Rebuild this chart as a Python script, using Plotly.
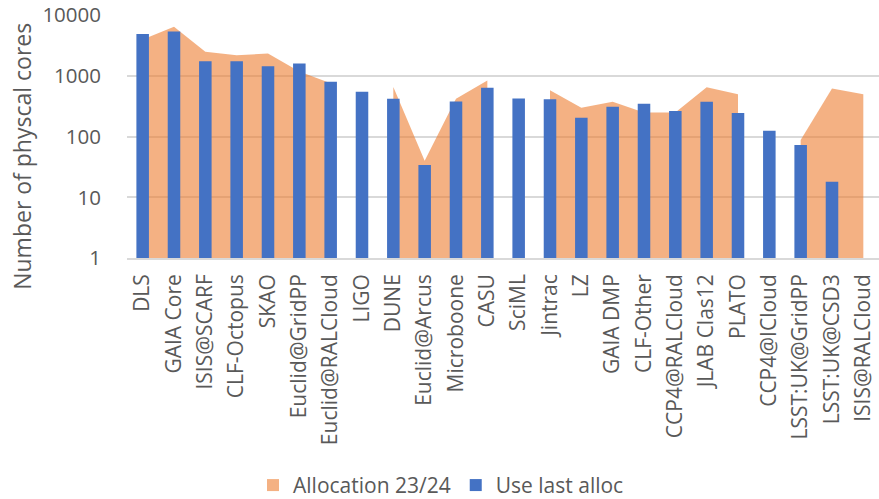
import plotly.graph_objects as go

categories = ["DLS", "GAIA Core", "ISIS@SCARF", "CLF-Octopus", "SKAO", "Euclid@GridPP",
              "Euclid@RALCloud", "LIGO", "DUNE", "Euclid@Arcus", "Microboone", "CASU",
              "SciML", "Jintrac", "LZ", "GAIA DMP", "CLF-Other", "CCP4@RALCloud",
              "JLAB Clas12", "PLATO", "CCP4@ICloud", "LSST:UK@GridPP", "LSST:UK@CSD3",
              "ISIS@RALCloud"]

allocation_2324 = [4000, 6500, 2500, 2200, 2350, 1180, 760, None, 660, 40, 420, 840,
                   None, 580, 300, 375, 250, 250, 650, 500, None, 88, 620, 500]

use_last_alloc = [4900, 5400, 1750, 1750, 1450, 1600, 800, 550, 420, 34, 380, 640,
                  425, 415, 205, 310, 350, 265, 375, 245, 125, 73, 18, None]

tick_vals = [1, 10, 100, 1000, 10000]
tick_text = ["1", "10", "100", "1000", "10000"]

ORANGE_FILL = "rgba(237,125,49,0.6)"
BLUE = "#4472C4"
GREY_TXT = "#595959"
GRID = "#D9D9D9"
FONT = "Open Sans"

W, H = 879, 499
Y_TOP = 4.005
PLOT_L, PLOT_B = 127, 258.3
DECADE = 60.75
PLOT_T = PLOT_B - DECADE * Y_TOP
PLOT_W, PLOT_H = W - PLOT_L, PLOT_B - PLOT_T

fig = go.Figure()

# Split the allocation series into contiguous runs (blank categories break the area)
runs = []
cur_x, cur_y = [], []
for c, v in zip(categories, allocation_2324):
    if v is None:
        if cur_x:
            runs.append((cur_x, cur_y))
        cur_x, cur_y = [], []
    else:
        cur_x.append(c)
        cur_y.append(v)
if cur_x:
    runs.append((cur_x, cur_y))

for rx, ry in runs:
    fig.add_trace(go.Scatter(
        x=rx, y=ry, mode="none", fill="tozeroy",
        fillcolor=ORANGE_FILL, showlegend=False,
        name="Allocation 23/24", legendgroup="alloc",
        xaxis="x", yaxis="y",
    ))

# Legend entry for the area
fig.add_trace(go.Bar(
    x=[categories[0]], y=[None], name="Allocation 23/24", legendgroup="alloc",
    marker=dict(color=ORANGE_FILL, line=dict(width=0)),
    xaxis="x", yaxis="y", showlegend=True,
))

# Bars (use) on overlay axes, drawn on top of the area
fig.add_trace(go.Bar(
    x=categories, y=use_last_alloc, name="Use last alloc",
    marker=dict(color=BLUE, line=dict(width=0)),
    xaxis="x2", yaxis="y2",
))

fig.update_layout(
    width=W, height=H,
    margin=dict(l=PLOT_L, r=0, t=PLOT_T, b=H - PLOT_B, pad=0, autoexpand=False),
    paper_bgcolor="white", plot_bgcolor="white",
    font=dict(family=FONT, color=GREY_TXT, size=20),
    bargap=0.6,
    showlegend=True,
    legend=dict(
        orientation="h", x=(441 - PLOT_L) / PLOT_W, xanchor="center",
        y=(PLOT_B - 486) / PLOT_H, yanchor="middle",
        font=dict(family=FONT, size=21, color=GREY_TXT),
        itemwidth=30, traceorder="normal",
        bgcolor="rgba(0,0,0,0)",
    ),
    xaxis=dict(
        type="category", categoryorder="array", categoryarray=categories,
        range=[-0.5, len(categories) - 0.5], automargin=False,
        showgrid=False, zeroline=False,
        showline=True, linecolor=GRID, linewidth=1.5,
        ticks="", tickangle=-90, ticklabelstandoff=6,
        tickfont=dict(family=FONT, size=21, color=GREY_TXT),
    ),
    yaxis=dict(
        type="log", range=[0, Y_TOP], automargin=False,
        tickvals=tick_vals, ticktext=tick_text,
        showgrid=True, gridcolor=GRID, gridwidth=1.5,
        zeroline=False, showline=False, ticks="",
        ticklabelstandoff=25,
        tickfont=dict(family=FONT, size=20.5, color=GREY_TXT),
    ),
    xaxis2=dict(
        type="category", categoryorder="array", categoryarray=categories,
        overlaying="x", matches="x", visible=False, automargin=False,
    ),
    yaxis2=dict(
        type="log", range=[0, Y_TOP], overlaying="y", visible=False, automargin=False,
    ),
    annotations=[dict(
        text="Number of physcal cores", textangle=-90,
        xref="paper", yref="paper", x=(22 - PLOT_L) / PLOT_W, y=(PLOT_B - 157) / PLOT_H,
        xanchor="center", yanchor="middle", showarrow=False,
        font=dict(family=FONT, size=23, color=GREY_TXT),
    )],
)

# Remove the browser's default 8px body margin so the figure fills the window exactly
fig.write_html("out.html", config={"displayModeBar": False},
               post_script="document.body.style.margin='0px';")
